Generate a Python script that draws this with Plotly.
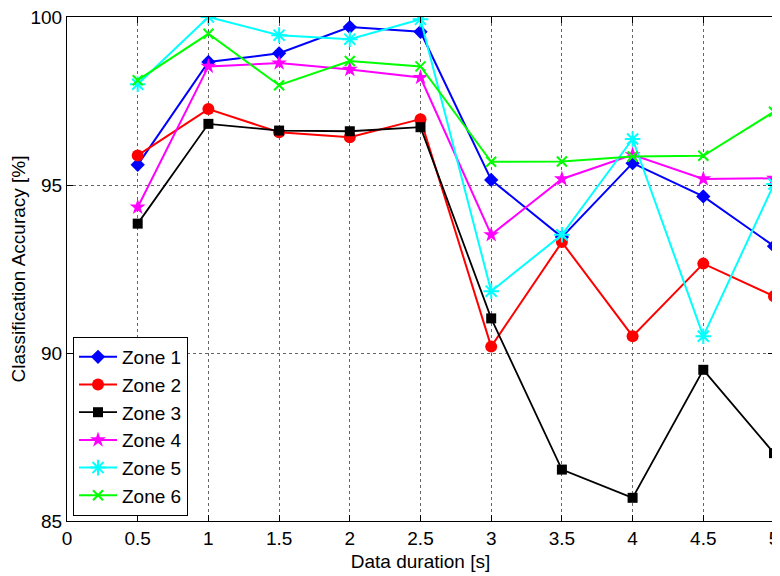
import plotly.graph_objects as go

durations = [0.5, 1, 1.5, 2, 2.5, 3, 3.5, 4, 4.5, 5]

zone1 = [95.60, 98.66, 98.92, 99.70, 99.56, 95.15, 93.45, 95.65, 94.66, 93.18]
zone2 = [95.88, 97.26, 96.57, 96.42, 96.96, 90.19, 93.30, 90.50, 92.66, 91.69]
zone3 = [93.85, 96.82, 96.62, 96.60, 96.72, 91.03, 86.53, 85.69, 89.50, 87.02]
zone4 = [94.34, 98.53, 98.63, 98.44, 98.20, 93.52, 95.18, 95.90, 95.18, 95.20]
zone5 = [98.00, 100.0, 99.46, 99.34, 99.93, 91.84, 93.52, 96.37, 90.50, 95.03]
zone6 = [98.12, 99.50, 97.97, 98.69, 98.53, 95.69, 95.70, 95.85, 95.87, 97.18]

names = ["Zone 1", "Zone 2", "Zone 3", "Zone 4", "Zone 5", "Zone 6"]
series = [zone1, zone2, zone3, zone4, zone5, zone6]
colors = ["#0000ff", "#ff0000", "#000000", "#ff00ff", "#00ffff", "#00ff00"]
symbols = ["diamond", "circle", "square", "star", "asterisk-open", "x-thin-open"]
sizes = [11, 12, 10, 12, 13, 10]
widths = [2, 2, 1.8, 2, 2, 2]

xticks = [0, 0.5, 1, 1.5, 2, 2.5, 3, 3.5, 4, 4.5, 5]
xticklabels = ["0", "0.5", "1", "1.5", "2", "2.5", "3", "3.5", "4", "4.5", "5"]
yticks = [85, 90, 95, 100]

fig = go.Figure()
for name, ys, c, s, sz, w in zip(names, series, colors, symbols, sizes, widths):
    open_sym = s.endswith("open")
    fig.add_trace(go.Scatter(
        x=durations, y=ys, name=name, mode="lines+markers",
        line=dict(color=c, width=w),
        marker=dict(symbol=s, size=sz, color=c,
                    line=dict(color=c, width=2 if open_sym else 0)),
    ))

font = "Liberation Sans, Arial, Helvetica, sans-serif"
axis_common = dict(
    showline=True, linecolor="black", linewidth=1, mirror="ticks",
    ticks="inside", ticklen=6, tickcolor="black", tickwidth=1,
    showgrid=True, gridcolor="#666666", gridwidth=1, griddash="dot",
    zeroline=False, tickfont=dict(family=font, size=19, color="black"),
    ticklabeloverflow="allow", automargin=False,
)

fig.update_layout(
    width=772, height=568,
    margin=dict(l=59, r=6, t=9, b=55),
    paper_bgcolor="white", plot_bgcolor="white",
    font=dict(family=font, size=19, color="black"),
    showlegend=True,
    legend=dict(
        x=0.0085, y=0.01, xanchor="left", yanchor="bottom",
        bgcolor="white", bordercolor="black", borderwidth=1,
        font=dict(family=font, size=19, color="black"),
        tracegroupgap=0, itemwidth=38,
    ),
    xaxis=dict(
        range=[0, 5], tickvals=xticks, ticktext=xticklabels,
        title=dict(text="Data duration [s]", font=dict(family=font, size=19), standoff=6),
        **axis_common,
    ),
    yaxis=dict(
        range=[85, 100], tickvals=yticks,
        title=dict(text="Classification Accuracy [%]", font=dict(family=font, size=19), standoff=6),
        **axis_common,
    ),
)

fig.write_html("out.html")
